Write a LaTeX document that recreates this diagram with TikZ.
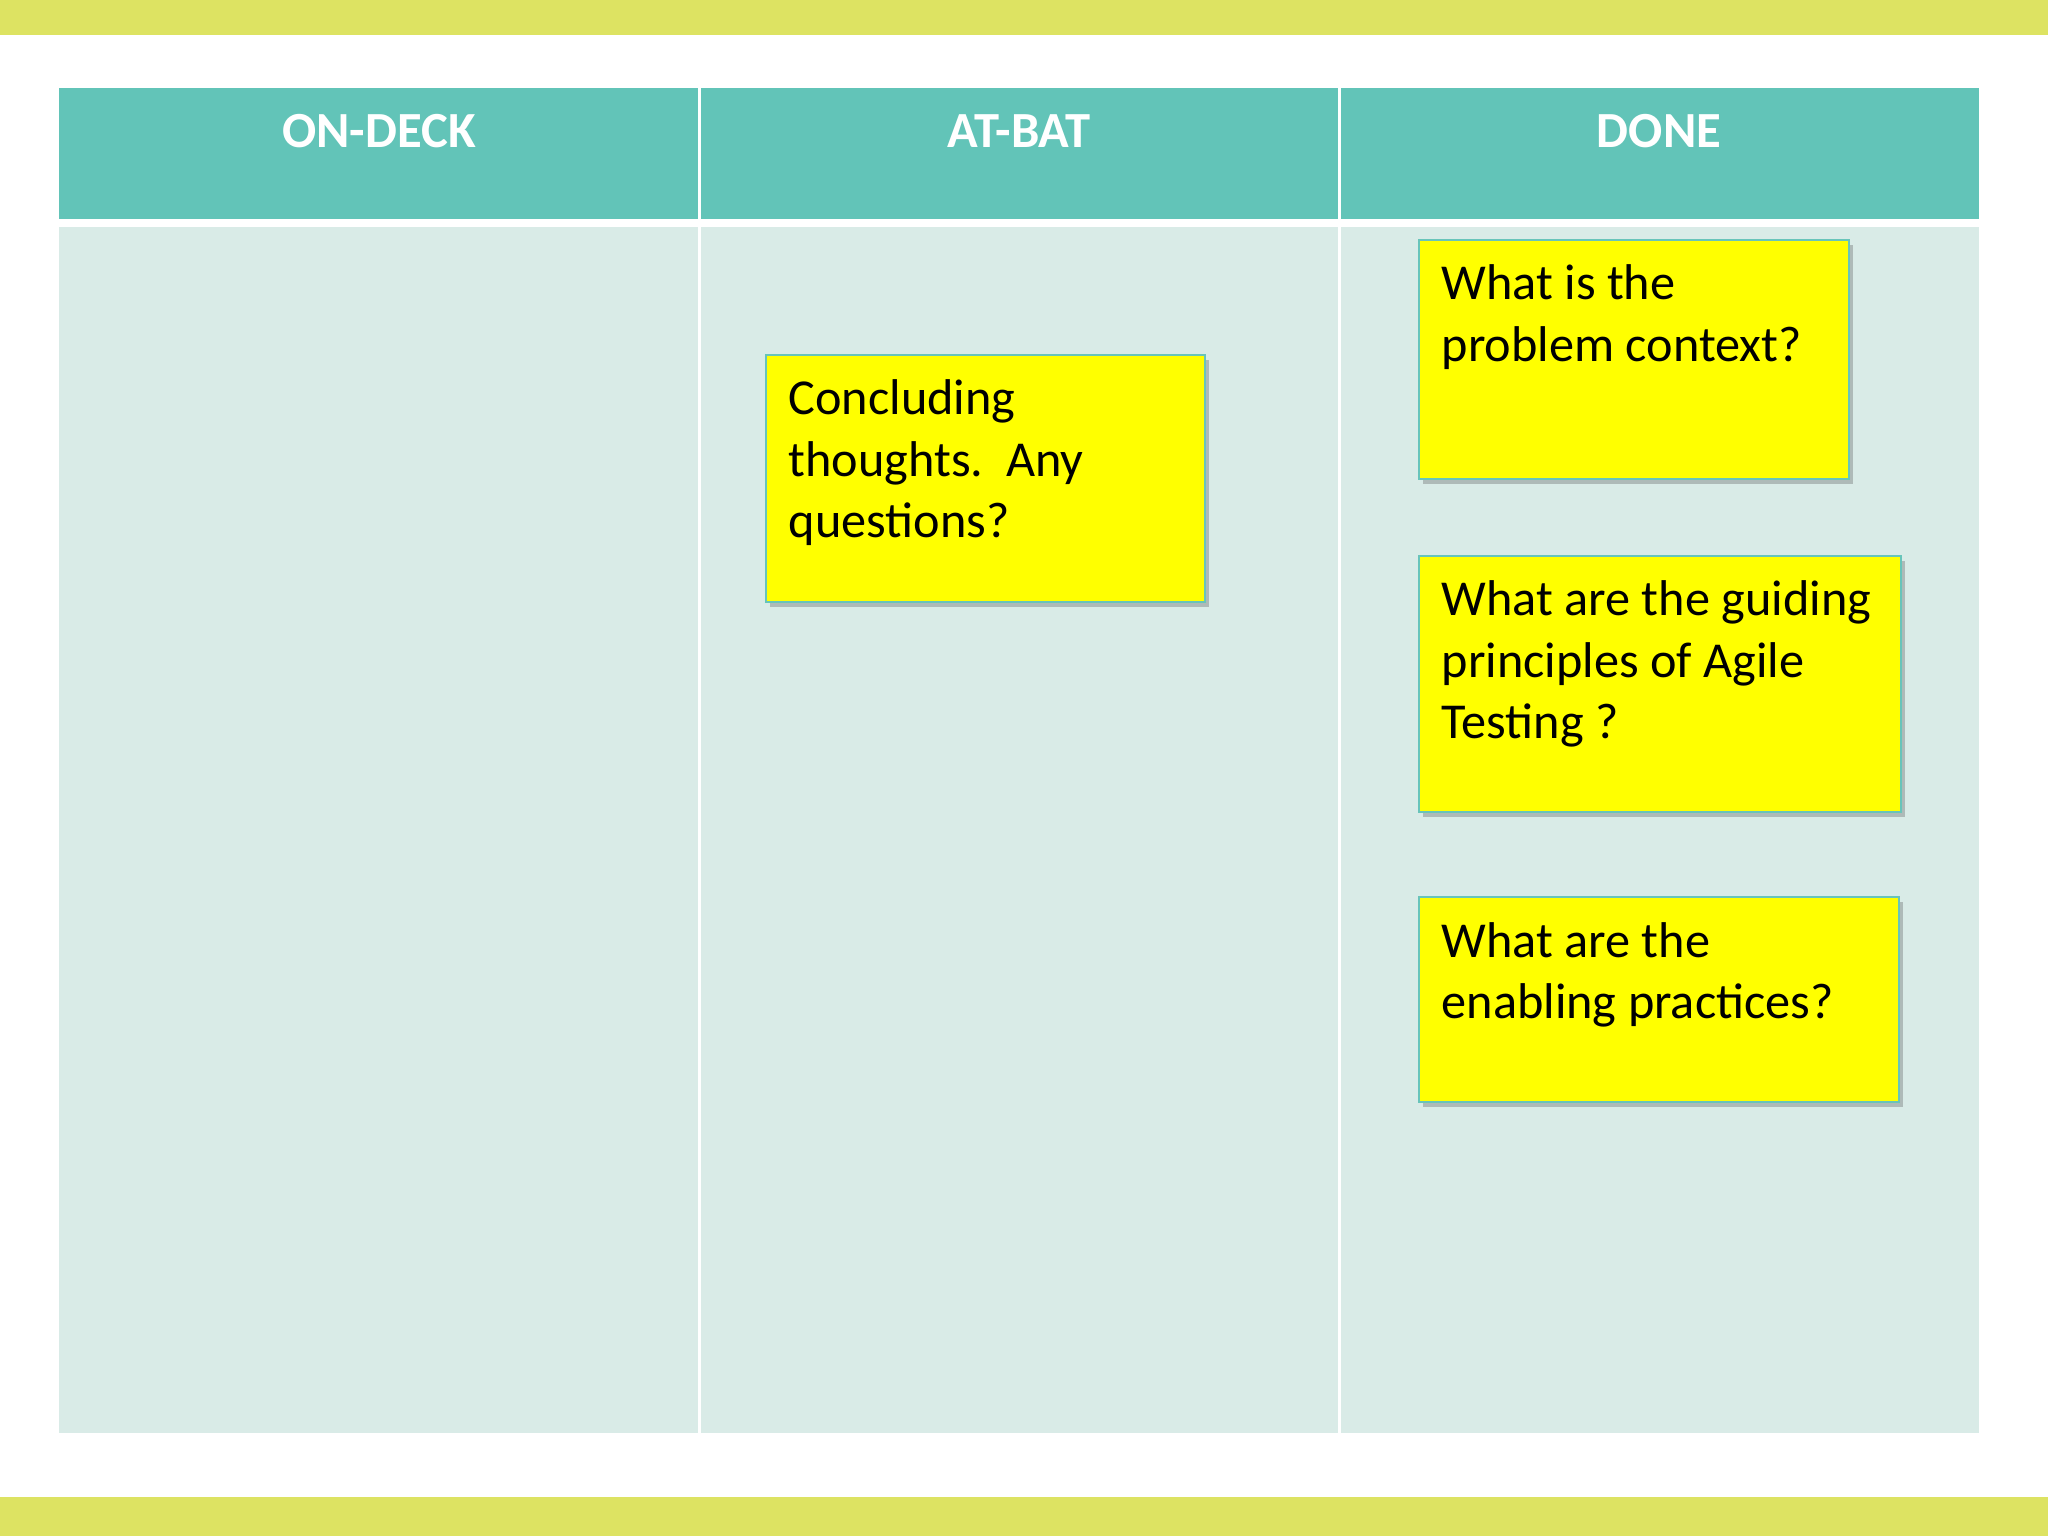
\documentclass[tikz,border=0pt]{standalone}
\usepackage{fontspec}
\setmainfont{Carlito}
\usetikzlibrary{shadows}
\definecolor{barlime}{RGB}{221,227,98}
\definecolor{headteal}{RGB}{98,196,184}
\definecolor{bodyteal}{RGB}{217,235,231}
\definecolor{noteedge}{RGB}{104,196,186}
\definecolor{notefill}{RGB}{255,255,0}
\newcommand{\stickylines}[1]{\parbox[t]{5cm}{#1}}
\tikzset{
  note/.style={draw=noteedge, line width=0.6pt, fill=notefill, anchor=north west, inner sep=0pt,
    drop shadow={shadow xshift=0.04cm, shadow yshift=-0.05cm, opacity=0.3, fill=black!70}},
  notetext/.style={anchor=base west, inner sep=0pt,
    font=\fontsize{14.3}{17.36}\selectfont},
  colhead/.style={anchor=base, text=white, inner sep=0pt,
    font=\fontsize{14.4}{17}\selectfont\bfseries}
}
\begin{document}
\begin{tikzpicture}[x=1cm,y=-1cm]
    \useasboundingbox (0,0) rectangle (20.48,15.36);
    \fill[barlime] (0,0) rectangle (20.48,0.35);
    \fill[barlime] (0,14.97) rectangle (20.48,15.36);
    \fill[headteal] (0.59,0.88) rectangle (19.79,2.19);
    \fill[bodyteal] (0.59,2.27) rectangle (19.79,14.33);
    \foreach \x in {6.99,13.39} {
        \draw[white, line width=0.03cm] (\x,0.88) -- (\x,14.33);
      }
    \node[colhead] (ondeck) at (3.79,1.48) {ON-DECK};
    \node[colhead] (atbat) at (10.19,1.48) {AT-BAT};
    \node[colhead] (done) at (16.59,1.48) {DONE};
    % sticky notes
    \node[note, minimum width=4.39cm, minimum height=2.47cm] (N1) at (7.65,3.54) {};
    \node[note, minimum width=4.30cm, minimum height=2.39cm] (N2) at (14.18,2.39) {};
    \node[note, minimum width=4.82cm, minimum height=2.56cm] (N3) at (14.18,5.55) {};
    \node[note, minimum width=4.80cm, minimum height=2.05cm] (N4) at (14.18,8.96) {};
    \node[notetext] (T1) at ([xshift=0.23cm,yshift=-0.61cm]N1.north west)
      {\stickylines{Concluding\\thoughts.\ \ Any\\questions?}};
    \node[notetext] (T2) at ([xshift=0.23cm,yshift=-0.61cm]N2.north west)
      {\stickylines{What is the\\problem context?}};
    \node[notetext] (T3) at ([xshift=0.23cm,yshift=-0.61cm]N3.north west)
      {\stickylines{What are the guiding\\principles of Agile\\Testing ?}};
    \node[notetext] (T4) at ([xshift=0.23cm,yshift=-0.61cm]N4.north west)
      {\stickylines{What are the\\enabling practices?}};
  \end{tikzpicture}
\end{document}
